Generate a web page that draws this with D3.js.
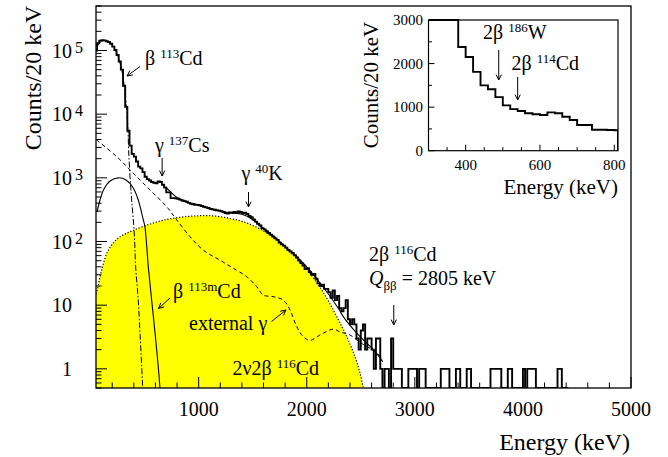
<!DOCTYPE html>
<html><head><meta charset="utf-8">
<script src="https://cdn.jsdelivr.net/npm/d3@7"></script>
<style>
html,body{margin:0;padding:0;background:#fff;}
svg text{font-family:"Liberation Serif","Times New Roman",serif;fill:#000;}
</style></head><body>
<svg id="chart" width="668" height="457"></svg>
<script>
// ---- measured spectrum: 20 keV bins starting at 40 keV ----
const binWidth = 20;
const firstBinLow = 40;
const counts = [
  100000, 130000, 142000, 145000, 144000, 140000, 136000, 128000, 115000, 102000,
  85000, 67000, 50000, 28000, 13000, 5500, 3200, 2380, 2150, 1810,
  1500, 1410, 1230, 1040, 955, 910, 860, 835, 820, 880,
  860, 780, 705, 590, 590, 480, 480, 475, 470, 455,
  440, 430, 420, 405, 392, 384, 378, 376, 372, 362,
  352, 344, 335, 326, 320, 316, 310, 305, 298, 290,
  280, 275, 285, 282, 292, 285, 296, 290, 278, 284,
  270, 252, 240, 222, 205, 190, 178, 162, 155, 145,
  136, 128, 120, 112, 106, 96, 90, 86, 80, 74,
  70, 66, 61, 56, 50, 46, 42, 37, 38, 33,
  30, 31, 26, 22, 20, 21, 18, 18, 16, 13,
  17, 12, 14, 9, 8, 9, 12, 6, 5, 6,
  5, 3, 2, 4, 5, 2, 3, 3, 2, 1,
  3, 3, 1, 0
];
// sparse high-energy events (bin low edge, counts)
const tailBinLows = [2720, 2740, 2780, 2800, 2820, 2840, 2860, 2940, 2960, 2980, 3000,
  3040, 3060, 3080, 3240, 3260, 3280, 3300, 3380, 3400, 3480, 3500,
  3700, 3720, 3740, 3760, 3780, 3860, 3880, 4000, 4040, 4060, 4080, 4100, 4320, 4340];
const tailCounts = [1, 1, 3, 1, 1, 1, 1, 1, 1, 1, 1,
  1, 1, 1, 1, 1, 1, 1, 1, 1, 1, 1,
  1, 1, 1, 1, 1, 1, 1, 1, 1, 1, 1, 1, 1, 1];
const lastBinLow = 4400;

// ---- fitted components (energy keV, counts/20 keV) ----
const beta113CdE = [60, 100, 160, 210, 250, 290, 315, 335, 345, 352, 365, 380, 404, 417, 441, 457, 473, 482];
const beta113CdV = [115000, 140000, 138000, 114000, 84000, 48000, 24000, 11000, 6000, 2700, 1040, 450, 136, 40, 12, 3.7, 1.08, 0.5];

const beta113mCdE = [59, 87, 124, 180, 256, 328, 395, 441, 488, 503, 534, 565, 596, 626, 642];
const beta113mCdV = [290, 449, 668, 891, 1000, 925, 692, 449, 218, 170, 40, 12, 3.7, 1.08, 0.5];

const extGammaE = [55, 242, 395, 550, 704, 797, 920, 1043, 1197, 1320, 1444, 1537, 1598, 1690, 1783, 1845, 1907, 1968, 2030, 2122, 2245, 2307, 2400, 2493, 2604, 2696];
const extGammaV = [3950, 2150, 1180, 644, 352, 218, 119, 73, 51, 38, 28, 19.5, 14.4, 13.6, 12, 8.4, 4.6, 3.2, 2.8, 3.4, 4.2, 3.8, 3.4, 2.6, 2.0, 1.5];

const twoNuE = [50, 64, 103, 164, 256, 380, 550, 704, 855, 1012, 1151, 1290, 1413, 1567, 1722, 1845, 1937, 2060, 2184, 2277, 2370, 2446, 2493, 2523];
const twoNuV = [15, 18, 36, 73, 113, 146, 188, 222, 243, 254, 251, 230, 204, 157, 107, 68, 49, 27, 13, 6.6, 3.2, 1.55, 0.85, 0.5];

const totalFitE = [700, 800, 900, 1000, 1100, 1200, 1300, 1400, 1500, 1600, 1700, 1800, 1900, 2000, 2100, 2200, 2300, 2338, 2400, 2493, 2616, 2703];
const totalFitV = [700, 490, 415, 372, 335, 300, 280, 268, 222, 160, 118, 84, 59, 40, 25, 15, 8.5, 6.6, 4.8, 3.2, 2.0, 1.3];

// ---- axis ticks ----
const xMajorTicks = [1000, 2000, 3000, 4000, 5000];
const yDecades = [0, 1, 2, 3, 4, 5];
const insetXTicks = [400, 600, 800];
const insetYTicks = [0, 1000, 2000, 3000];

// ---- marker energies ----
const cs137Line = 662, k40Line = 1461, qbb116 = 2805, qbb186W = 489, qbb114Cd = 540;

const svg = d3.select("#chart");

// main frame
const M = {left: 96, right: 631, top: 6, bottom: 388};
const x = d3.scaleLinear().domain([50, 5000]).range([M.left, M.right]);
const y = d3.scaleLog().domain([0.5, 5e5]).range([M.bottom, M.top]);

svg.append("defs").append("clipPath").attr("id", "plotClip")
  .append("rect").attr("x", M.left).attr("y", M.top)
  .attr("width", M.right - M.left).attr("height", M.bottom - M.top);

const plot = svg.append("g").attr("clip-path", "url(#plotClip)");

// full bin list
const bins = [];
for (let lo = firstBinLow, i = 0; lo <= lastBinLow; lo += binWidth, i++) {
  let v = i < counts.length ? counts[i] : 0;
  const k = tailBinLows.indexOf(lo);
  if (k >= 0) v = tailCounts[k];
  bins.push({lo: lo, hi: lo + binWidth, v: v});
}

function stepPoints(list, yMin, yMax) {
  const pts = [[list[0].lo, yMin]];
  list.forEach(b => {
    const v = Math.max(yMin, Math.min(yMax, b.v));
    pts.push([b.lo, v], [b.hi, v]);
  });
  pts.push([list[list.length - 1].hi, yMin]);
  return pts;
}

const zip = (a, b) => a.map((e, i) => [e, b[i]]);
const smooth = d3.curveCatmullRom.alpha(0.5);

// 2nu2beta area
const twoNu = zip(twoNuE, twoNuV);
plot.append("path")
  .attr("d", d3.area().x(d => x(d[0])).y0(M.bottom).y1(d => y(d[1])).curve(smooth)(twoNu))
  .attr("fill", "#ffff00");
plot.append("path")
  .attr("d", d3.line().x(d => x(d[0])).y(d => y(d[1])).curve(smooth)(twoNu))
  .attr("fill", "none").attr("stroke", "#000").attr("stroke-width", 1.2)
  .attr("stroke-dasharray", "1.2,1.8");

function curve(E, V, dash, w) {
  plot.append("path")
    .attr("d", d3.line().x(d => x(d[0])).y(d => y(d[1])).curve(smooth)(zip(E, V)))
    .attr("fill", "none").attr("stroke", "#000").attr("stroke-width", w || 1)
    .attr("stroke-dasharray", dash);
}
curve(extGammaE, extGammaV, "4,3", 1);
curve(beta113CdE, beta113CdV, "6,2,1.5,2", 1);
curve(beta113mCdE, beta113mCdV, null, 1.1);
curve(totalFitE, totalFitV, null, 1.1);

// measured histogram
plot.append("path")
  .attr("d", d3.line().x(d => x(d[0])).y(d => y(d[1]))(stepPoints(bins, 0.5, 5e5)))
  .attr("fill", "none").attr("stroke", "#000").attr("stroke-width", 1.9)
  .attr("stroke-linejoin", "miter");

// frame
svg.append("rect").attr("x", M.left).attr("y", M.top)
  .attr("width", M.right - M.left).attr("height", M.bottom - M.top)
  .attr("fill", "none").attr("stroke", "#000").attr("stroke-width", 1.3);

const axes = svg.append("g").attr("stroke", "#000").attr("stroke-width", 1);
// x ticks
d3.range(200, 5001, 200).forEach(t => {
  const major = t % 1000 === 0;
  axes.append("line").attr("x1", x(t)).attr("x2", x(t))
    .attr("y1", M.bottom).attr("y2", M.bottom - (major ? 11 : 5.5));
});
xMajorTicks.forEach(t => {
  svg.append("text").attr("x", x(t)).attr("y", 416).attr("text-anchor", "middle")
    .attr("font-size", 20).text(t);
});
// y ticks
const yMin = y.domain()[0], yMax = y.domain()[1];
for (let d = -1; d <= 5; d++) {
  for (let m = 1; m <= 9; m++) {
    const v = m * Math.pow(10, d);
    if (v < yMin || v > yMax) continue;
    axes.append("line").attr("x1", M.left).attr("x2", M.left + (m === 1 ? 11 : 5.5))
      .attr("y1", y(v)).attr("y2", y(v));
  }
}
yDecades.forEach(p => {
  const t = svg.append("text").attr("y", y(Math.pow(10, p)) + 7).attr("font-size", 20);
  if (p === 0) { t.attr("x", 72).attr("text-anchor", "end").text("1"); }
  else if (p === 1) { t.attr("x", 72).attr("text-anchor", "end").text("10"); }
  else {
    t.attr("x", 52).text("10");
    t.append("tspan").attr("x", 75).attr("dy", -5).attr("font-size", 16).text(p);
  }
});

// axis titles
svg.append("text").attr("x", 630).attr("y", 450).attr("text-anchor", "end")
  .attr("font-size", 24).text("Energy (keV)");
svg.append("text").attr("transform", "translate(41,78) rotate(-90)")
  .attr("text-anchor", "middle").attr("font-size", 24).text("Counts/20 keV");

// annotations
function label(x0, y0, parts, size) {
  const t = svg.append("text").attr("x", x0).attr("y", y0).attr("font-size", size || 20);
  let shift = 0;
  parts.forEach(p => {
    const s = t.append("tspan").text(p.t);
    const want = p.sup ? -7 : (p.sub ? 5 : 0);
    s.attr("dy", want - shift); shift = want;
    if (p.sup || p.sub) s.attr("font-size", 13);
    if (p.it) s.attr("font-style", "italic");
    if (p.dx) s.attr("dx", p.dx);
  });
  return t;
}
function arrow(x1, y1, x2, y2) {
  const g = svg.append("g").attr("stroke", "#000").attr("stroke-width", 1).attr("fill", "none");
  g.append("line").attr("x1", x1).attr("y1", y1).attr("x2", x2).attr("y2", y2);
  const a = Math.atan2(y2 - y1, x2 - x1), L = 6, h = 0.45;
  g.append("path").attr("d",
    `M${x2 - L * Math.cos(a - h)},${y2 - L * Math.sin(a - h)}L${x2},${y2}L${x2 - L * Math.cos(a + h)},${y2 - L * Math.sin(a + h)}`);
}

label(145, 65, [{t: "β "}, {t: "113", sup: true}, {t: "Cd"}]);
arrow(140, 66.5, 127, 76);
label(155, 152, [{t: "γ "}, {t: "137", sup: true}, {t: "Cs"}]);
arrow(x(cs137Line), 158, x(cs137Line), 176);
label(241.5, 180, [{t: "γ "}, {t: "40", sup: true}, {t: "K"}]);
arrow(x(k40Line), 192, x(k40Line), 207);
label(173, 298, [{t: "β "}, {t: "113m", sup: true}, {t: "Cd"}]);
arrow(170, 298, 158.5, 308.5);
label(189, 330, [{t: "external γ"}]);
arrow(271.5, 321.5, 286, 310);
label(232.5, 375, [{t: "2ν2β  "}, {t: "116", sup: true}, {t: "Cd"}]);
label(369, 261, [{t: "2β "}, {t: "116", sup: true}, {t: "Cd"}]);
label(369, 285, [{t: "Q", it: true}, {t: "ββ", sub: true}, {t: " = 2805 keV"}]);
arrow(x(qbb116), 305, x(qbb116), 325);

// ---- inset ----
const I = {left: 428.5, right: 618, top: 20, bottom: 150.7};
const xi = d3.scaleLinear().domain([300, 810]).range([I.left, I.right]);
const yi = d3.scaleLinear().domain([0, 3000]).range([I.bottom, I.top]);
const inset = svg.append("g");
inset.append("rect").attr("x", I.left).attr("y", I.top)
  .attr("width", I.right - I.left).attr("height", I.bottom - I.top).attr("fill", "#fff");
inset.append("clipPath").attr("id", "insetClip").append("rect")
  .attr("x", I.left).attr("y", I.top - 1).attr("width", I.right - I.left).attr("height", I.bottom - I.top + 2);
const insetBins = bins.filter(b => b.hi > 300 && b.lo < 810)
  .map(b => ({lo: Math.max(300, b.lo), hi: Math.min(810, b.hi), v: b.v}));
const ipts = [];
insetBins.forEach(b => { const v = Math.min(3000, b.v); ipts.push([b.lo, v], [b.hi, v]); });
ipts.push([810, 0]);
inset.append("path").attr("clip-path", "url(#insetClip)")
  .attr("d", d3.line().x(d => xi(d[0])).y(d => yi(d[1]))(ipts))
  .attr("fill", "none").attr("stroke", "#000").attr("stroke-width", 1.9);
inset.append("rect").attr("x", I.left).attr("y", I.top)
  .attr("width", I.right - I.left).attr("height", I.bottom - I.top)
  .attr("fill", "none").attr("stroke", "#000").attr("stroke-width", 1.2);
d3.range(350, 810, 50).forEach(t => {
  const major = t % 200 === 0;
  inset.append("line").attr("x1", xi(t)).attr("x2", xi(t)).attr("y1", I.bottom)
    .attr("y2", I.bottom - (major ? 6 : 3.5)).attr("stroke", "#000");
});
d3.range(0, 3001, 500).forEach(t => {
  const major = t % 1000 === 0;
  inset.append("line").attr("x1", I.left).attr("x2", I.left + (major ? 6 : 3.5))
    .attr("y1", yi(t)).attr("y2", yi(t)).attr("stroke", "#000");
});
insetXTicks.forEach(t => inset.append("text").attr("x", xi(t)).attr("y", 170)
  .attr("text-anchor", "middle").attr("font-size", 15).text(t));
insetYTicks.forEach(t => inset.append("text").attr("x", 423).attr("y", yi(t) + 5)
  .attr("text-anchor", "end").attr("font-size", 15).text(t));
inset.append("text").attr("x", 618).attr("y", 194).attr("text-anchor", "end")
  .attr("font-size", 21).text("Energy (keV)");
inset.append("text").attr("transform", "translate(378,85) rotate(-90)")
  .attr("text-anchor", "middle").attr("font-size", 21).text("Counts/20 keV");
label(483, 38.5, [{t: "2β "}, {t: "186", sup: true}, {t: "W"}]);
arrow(xi(qbb186W), 50, xi(qbb186W), 80);
label(511.5, 70, [{t: "2β "}, {t: "114", sup: true}, {t: "Cd"}]);
arrow(xi(qbb114Cd), 77, xi(qbb114Cd), 100);
</script>
</body></html>
